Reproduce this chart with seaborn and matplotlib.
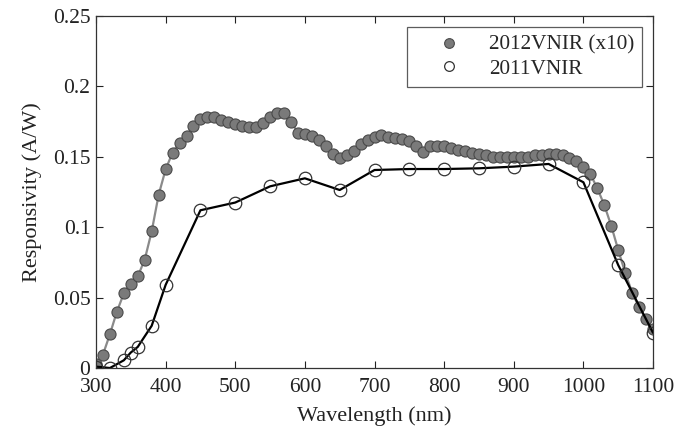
import numpy as np
import pandas as pd
import seaborn as sns
from matplotlib import pyplot as plt

# 2012 VNIR responsivity (x10), every 10 nm from 300 to 1100 nm
wl_2012 = list(range(300, 1101, 10))
resp_2012 = [0.003, 0.0095, 0.024, 0.040, 0.053, 0.060, 0.065, 0.077, 0.097, 0.123,
             0.141, 0.153, 0.160, 0.165, 0.172, 0.177, 0.178, 0.178, 0.176, 0.175,
             0.173, 0.172, 0.171, 0.171, 0.174, 0.178, 0.181, 0.181, 0.175, 0.167,
             0.166, 0.165, 0.162, 0.158, 0.152, 0.149, 0.151, 0.154, 0.159, 0.162,
             0.164, 0.1655, 0.164, 0.163, 0.1625, 0.161, 0.158, 0.1536, 0.158, 0.158,
             0.158, 0.156, 0.155, 0.154, 0.153, 0.152, 0.1515, 0.150, 0.150, 0.150,
             0.150, 0.150, 0.150, 0.151, 0.1515, 0.152, 0.152, 0.151, 0.149, 0.147,
             0.143, 0.1377, 0.1276, 0.1157, 0.101, 0.0838, 0.0677, 0.0535, 0.0431, 0.0346,
             0.0275]

# 2011 VNIR responsivity
wl_2011 = [300, 320, 340, 350, 360, 380, 400, 450, 500, 550, 600, 650, 700,
           750, 800, 850, 900, 950, 1000, 1050, 1100]
resp_2011 = [0.001, 0.0, 0.0055, 0.011, 0.015, 0.030, 0.059, 0.112, 0.1175, 0.129,
             0.1347, 0.1264, 0.1406, 0.1413, 0.1413, 0.1418, 0.143, 0.1449, 0.1319,
             0.0731, 0.025]

df12 = pd.DataFrame({'wl': wl_2012, 'resp': resp_2012})
df11 = pd.DataFrame({'wl': wl_2011, 'resp': resp_2011})

sns.set_style('ticks')
plt.rcParams['font.family'] = ['Liberation Serif', 'DejaVu Serif']

fig = plt.figure(figsize=(6.92, 4.32), dpi=100)
ax = fig.add_axes([0.1387, 0.1481, 0.805, 0.815])

sns.lineplot(data=df12, x='wl', y='resp', ax=ax, color='#8a8a8a', linewidth=1.6,
             marker='o', markersize=8, markerfacecolor='#7a7a7a',
             markeredgecolor='#4a4a4a', markeredgewidth=0.8, label='_nolegend_')
sns.lineplot(data=df11, x='wl', y='resp', ax=ax, color='black', linewidth=1.6,
             marker='o', markersize=9, markerfacecolor='none',
             markeredgecolor='#333333', markeredgewidth=0.9, label='_nolegend_')

# legend shows markers only
h1 = plt.Line2D([], [], linestyle='none', marker='o', markersize=7,
                markerfacecolor='#7a7a7a', markeredgecolor='#4a4a4a', markeredgewidth=0.8)
h2 = plt.Line2D([], [], linestyle='none', marker='o', markersize=7,
                markerfacecolor='white', markeredgecolor='#333333', markeredgewidth=0.9)
leg = ax.legend([h1, h2], ['2012VNIR (x10)', '2011VNIR'], loc='upper right',
                fontsize=15.3, frameon=True, fancybox=False, borderpad=0.4,
                handletextpad=0.34, handlelength=3.1, labelspacing=0.18,
                bbox_to_anchor=(1.0, 1.0))
leg.get_frame().set_edgecolor('#333333')
leg.get_frame().set_linewidth(0.9)

ax.set_xlim(300, 1100)
ax.set_ylim(0, 0.25)
ax.set_xticks(np.arange(300, 1101, 100))
ax.set_yticks([0, 0.05, 0.1, 0.15, 0.2, 0.25])
ax.set_yticklabels(['0', '0.05', '0.1', '0.15', '0.2', '0.25'])
ax.tick_params(direction='in', top=True, right=True, length=5, width=0.8,
               labelsize=15.5, colors='#222222')
ax.tick_params(axis='x', pad=7)
ax.tick_params(axis='y', pad=4)
for s in ax.spines.values():
    s.set_color('#333333')
    s.set_linewidth(0.9)

ax.set_xlabel('Wavelength (nm)', fontsize=16, color='#222222', labelpad=7)
ax.set_ylabel('Responsivity (A/W)', fontsize=16, color='#222222', labelpad=8)

fig.savefig('out.png', dpi=100)
